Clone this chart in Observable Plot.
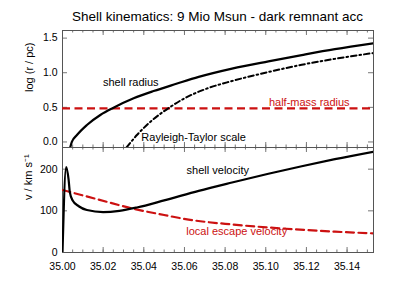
<!DOCTYPE html>
<html>
<head>
<meta charset="utf-8">
<script src="https://cdn.jsdelivr.net/npm/d3@7"></script>
<script src="https://cdn.jsdelivr.net/npm/@observablehq/plot@0.6"></script>
<style>
  body { margin: 0; background: #fff; }
  #chart { position: relative; width: 415px; height: 297px; font-family: "Liberation Sans", Arial, Helvetica, sans-serif; }
  #title { position: absolute; left: 62px; width: 311px; top: 8px; text-align: center; font-size: 13.5px; line-height: 17px; color: #000; white-space: nowrap; }
  #top, #bottom { position: absolute; left: 0; }
  #top { top: 0; }
  #bottom { top: 147px; }
</style>
</head>
<body>
<div id="chart">
  <div id="title"></div>
  <div id="top"></div>
  <div id="bottom"></div>
</div>
<script>
// ---- data ----
const titleText = "Shell kinematics: 9 Mio Msun - dark remnant acc";
const yLabelTop = "log (r / pc)";
const yLabelBottom = "v / km s\u207B\u00B9";

const xDomain = [35.0, 35.153];
const xMajorTicks = [35.00, 35.02, 35.04, 35.06, 35.08, 35.10, 35.12, 35.14];
const xMinorTicks = [35.000, 35.005, 35.010, 35.015, 35.020, 35.025, 35.030, 35.035, 35.040, 35.045,
  35.050, 35.055, 35.060, 35.065, 35.070, 35.075, 35.080, 35.085, 35.090, 35.095,
  35.100, 35.105, 35.110, 35.115, 35.120, 35.125, 35.130, 35.135, 35.140, 35.145, 35.150];

const rDomain = [-0.08, 1.61];
const rTicks = [0.0, 0.5, 1.0, 1.5];
const vDomain = [0, 252];
const vTicks = [0, 100, 200];

// shell radius: log r vs time
const shellT = [35.0037, 35.0046, 35.0071, 35.0120, 35.0186, 35.0251, 35.0350, 35.0448, 35.0560, 35.0670, 35.0834, 35.1013, 35.1177, 35.1340, 35.1530];
const shellLogR = [-0.09, 0.00, 0.10, 0.245, 0.39, 0.495, 0.63, 0.735, 0.84, 0.94, 1.06, 1.165, 1.255, 1.34, 1.425];

// Rayleigh-Taylor scale
const rtT = [35.0315, 35.0366, 35.0432, 35.0522, 35.0600, 35.0700, 35.0834, 35.1013, 35.1177, 35.1340, 35.1530];
const rtLogR = [-0.08, 0.10, 0.29, 0.49, 0.63, 0.76, 0.88, 1.01, 1.115, 1.20, 1.285];

// half-mass radius (log r)
const halfMassLogR = 0.485;

// shell velocity
const velT = [35.0000, 35.0018, 35.0030, 35.0036, 35.0050, 35.0080, 35.0120, 35.0200, 35.0280, 35.0366, 35.0500, 35.0670, 35.0834, 35.1013, 35.1177, 35.1340, 35.1530];
const velV = [0, 205, 175, 145, 125, 111, 102, 97, 100, 108, 125, 148, 168, 189, 207, 224, 242];

// local escape velocity
const escT = [35.000, 35.017, 35.034, 35.050, 35.062, 35.084, 35.110, 35.134, 35.153];
const escV = [150, 128, 106, 90, 79, 67, 57, 50, 46];

// annotations (label, x, y)
const topLabels = ["shell radius", "Rayleigh-Taylor scale", "half-mass radius"];
const topLabelX = [35.0336, 35.0645, 35.1214];
const topLabelY = [0.86, 0.068, 0.576];
const bottomLabels = ["shell velocity", "local escape velocity"];
const bottomLabelX = [35.0764, 35.0857];
const bottomLabelY = [197, 50];

// ---- drawing ----
const red = "#cc1111";
const frameColor = "#555";
const tickColor = "#777";
const font = "'Liberation Sans', Arial, Helvetica, sans-serif";
const W = 415, ML = 62, MR = 42, FW = W - ML - MR;

const zip = (xs, ys) => xs.map((x, i) => ({x, y: ys[i]}));
const shellData = zip(shellT, shellLogR);
const rtData = zip(rtT, rtLogR);
const velData = zip(velT, velV);
const escData = zip(escT, escV);
const topAnn = topLabels.map((t, i) => ({t, x: topLabelX[i], y: topLabelY[i], red: t === "half-mass radius"}));
const botAnn = bottomLabels.map((t, i) => ({t, x: bottomLabelX[i], y: bottomLabelY[i], red: t === "local escape velocity"}));

document.getElementById("title").textContent = titleText;

function tickMarks(H, yTickVals) {
  return [
    Plot.tickX(xMinorTicks, {x: d => d, insetTop: H - 2.5, stroke: tickColor}),
    Plot.tickX(xMinorTicks, {x: d => d, insetBottom: H - 2.5, stroke: tickColor}),
    Plot.tickX(xMajorTicks, {x: d => d, insetTop: H - 5, stroke: tickColor}),
    Plot.tickX(xMajorTicks, {x: d => d, insetBottom: H - 5, stroke: tickColor}),
    Plot.tickY(yTickVals, {y: d => d, insetRight: FW - 5, stroke: tickColor}),
    Plot.tickY(yTickVals, {y: d => d, insetLeft: FW - 5, stroke: tickColor})
  ];
}

const topH = 148, topMT = 30, topMB = 1;
const topPlot = Plot.plot({
  width: W, height: topH, marginTop: topMT, marginBottom: topMB, marginLeft: ML, marginRight: MR,
  style: {fontFamily: font, fontSize: "10.5px", background: "transparent", color: "#000"},
  x: {domain: xDomain, axis: null},
  y: {domain: rDomain},
  marks: [
    ...tickMarks(topH - topMT - topMB, rTicks),
    Plot.axisY(rTicks, {anchor: "left", tickSize: 0, tickPadding: 5, tickFormat: d3.format(".1f"), label: null, fontSize: 10.5}),
    Plot.text([yLabelTop], {text: d => d, frameAnchor: "left", rotate: -90, dx: -33, dy: 3, fontSize: 11, fill: "#000"}),
    Plot.frame({stroke: frameColor}),
    Plot.ruleY([halfMassLogR], {stroke: red, strokeWidth: 2.2, strokeDasharray: "8,4.5"}),
    Plot.line(rtData, {x: "x", y: "y", stroke: "#000", strokeWidth: 2, strokeDasharray: "5.5,3,1.6,3", curve: "monotone-x", clip: true}),
    Plot.line(shellData, {x: "x", y: "y", stroke: "#000", strokeWidth: 2.2, curve: "monotone-x", clip: true}),
    Plot.text(topAnn, {x: "x", y: "y", text: "t", fill: d => d.red ? red : "#000", fontSize: 11, textAnchor: "middle"})
  ]
});
document.getElementById("top").appendChild(topPlot);

const botH = 150, botMT = 0, botMB = 45;
const botPlot = Plot.plot({
  width: W, height: botH, marginTop: botMT, marginBottom: botMB, marginLeft: ML, marginRight: MR,
  style: {fontFamily: font, fontSize: "10.5px", background: "transparent", color: "#000"},
  x: {domain: xDomain},
  y: {domain: vDomain},
  marks: [
    ...tickMarks(botH - botMT - botMB, vTicks),
    Plot.axisX(xMajorTicks, {anchor: "bottom", tickSize: 0, tickPadding: 10, tickFormat: d3.format(".2f"), label: null, fontSize: 10.5}),
    Plot.axisY(vTicks, {anchor: "left", tickSize: 0, tickPadding: 5, label: null, fontSize: 10.5}),
    Plot.text([yLabelBottom], {text: d => d, frameAnchor: "left", rotate: -90, dx: -34, fontSize: 11, fill: "#000"}),
    Plot.frame({stroke: frameColor}),
    Plot.line(escData, {x: "x", y: "y", stroke: red, strokeWidth: 2.2, strokeDasharray: "8,4.5", curve: "monotone-x", clip: true}),
    Plot.line(velData, {x: "x", y: "y", stroke: "#000", strokeWidth: 2.2, curve: "monotone-x", clip: true}),
    Plot.text(botAnn, {x: "x", y: "y", text: "t", fill: d => d.red ? red : "#000", fontSize: 11, textAnchor: "middle"})
  ]
});
document.getElementById("bottom").appendChild(botPlot);
</script>
</body>
</html>
